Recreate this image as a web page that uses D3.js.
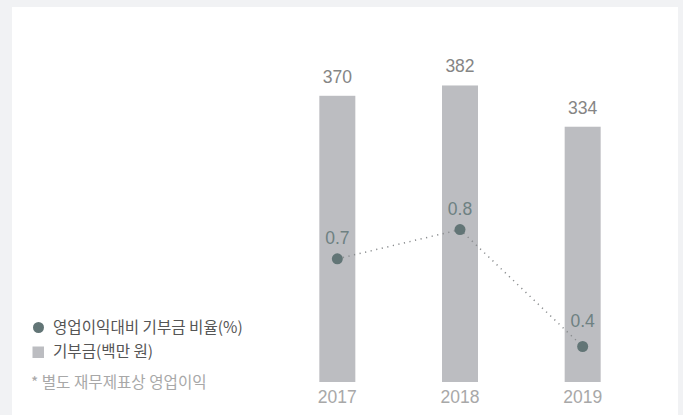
<!DOCTYPE html>
<html>
<head>
<meta charset="utf-8">
<script src="https://cdn.jsdelivr.net/npm/d3@7"></script>
<style>
  body { margin: 0; background: #f1f2f4; }
  svg { display: block; font-family: "Liberation Sans", Arial, "Noto Sans CJK KR", sans-serif; }
</style>
</head>
<body>
<div id="chart"></div>
<script>
// data
const years = ["2017", "2018", "2019"];
const donations = [370, 382, 334];      // 기부금(백만 원)
const ratios = [0.7, 0.8, 0.4];         // 영업이익대비 기부금 비율(%)
const legendLabels = ["영업이익대비 기부금 비율(%)", "기부금(백만 원)"];
const footnote = "* 별도 재무제표상 영업이익";

const width = 683, height = 415;

const svg = d3.select("#chart")
    .append("svg")
    .attr("width", width)
    .attr("height", height);

// white panel
svg.append("rect")
    .attr("x", 12).attr("y", 7)
    .attr("width", 666).attr("height", height - 7)
    .attr("fill", "#ffffff");

// scales
const x = d3.scaleBand()
    .domain(years)
    .range([276, 644])
    .paddingInner(0.7)
    .paddingOuter(0.35);

const y = d3.scaleLinear()
    .domain([37, 400])
    .range([382, 70]);

const y2 = d3.scaleLinear()
    .domain([0.4, 0.8])
    .range([346.5, 229.6]);

const barW = 36;
const cx = d => x(d) + x.bandwidth() / 2;

// bars
svg.append("g").selectAll("rect")
    .data(years)
    .enter()
    .append("rect")
    .attr("x", d => cx(d) - barW / 2)
    .attr("y", (d, i) => y(donations[i]))
    .attr("width", barW)
    .attr("height", (d, i) => 382 - y(donations[i]))
    .attr("fill", "#bcbdc1");

// bar value labels
svg.append("g").selectAll("text")
    .data(years)
    .enter()
    .append("text")
    .attr("x", d => cx(d))
    .attr("y", (d, i) => y(donations[i]) - 13)
    .attr("text-anchor", "middle")
    .attr("font-size", 17.5)
    .attr("fill", "#858585")
    .text((d, i) => donations[i]);

// x axis labels
const xAxis = d3.axisBottom(x).tickSize(0).tickPadding(9);
const gx = svg.append("g")
    .attr("transform", "translate(0,382)")
    .call(xAxis);
gx.select(".domain").remove();
gx.selectAll("text")
    .attr("font-size", 17.5)
    .attr("font-family", "Liberation Sans, Arial, sans-serif")
    .attr("fill", "#a8a8a8");

// dotted line
const pts = years.map((d, i) => [cx(d), y2(ratios[i])]);
svg.append("path")
    .attr("d", d3.line()(pts))
    .attr("fill", "none")
    .attr("stroke", "#8a8d8f")
    .attr("stroke-width", 1.5)
    .attr("stroke-dasharray", "1.2,4.5");

// points
svg.append("g").selectAll("circle")
    .data(years)
    .enter()
    .append("circle")
    .attr("cx", d => cx(d))
    .attr("cy", (d, i) => y2(ratios[i]))
    .attr("r", 5.5)
    .attr("fill", "#627576");

// point labels
svg.append("g").selectAll("text")
    .data(years)
    .enter()
    .append("text")
    .attr("x", d => cx(d))
    .attr("y", (d, i) => y2(ratios[i]) - (i === 2 ? 20 : 15))
    .attr("text-anchor", "middle")
    .attr("font-size", 17.5)
    .attr("fill", "#6e8182")
    .text((d, i) => d3.format(".1f")(ratios[i]));

// legend
const legend = svg.append("g").attr("font-family", "Noto Sans CJK KR, sans-serif");
legend.append("circle")
    .attr("cx", 38.5).attr("cy", 327.5).attr("r", 5.5)
    .attr("fill", "#627576");
legend.append("rect")
    .attr("x", 32.5).attr("y", 346.5).attr("width", 11.5).attr("height", 11.5)
    .attr("fill", "#bcbdc1");
legend.selectAll("text.leg")
    .data(legendLabels)
    .enter()
    .append("text")
    .attr("class", "leg")
    .attr("x", 53)
    .attr("y", (d, i) => 327.5 + i * 24.5)
    .attr("dy", "0.35em")
    .attr("font-size", 15.6)
    .attr("fill", "#555555")
    .text(d => d);
legend.append("text")
    .attr("x", 31)
    .attr("y", 383)
    .attr("dy", "0.35em")
    .attr("font-size", 15.6)
    .attr("fill", "#a8a8a8")
    .text(footnote);
</script>
</body>
</html>
